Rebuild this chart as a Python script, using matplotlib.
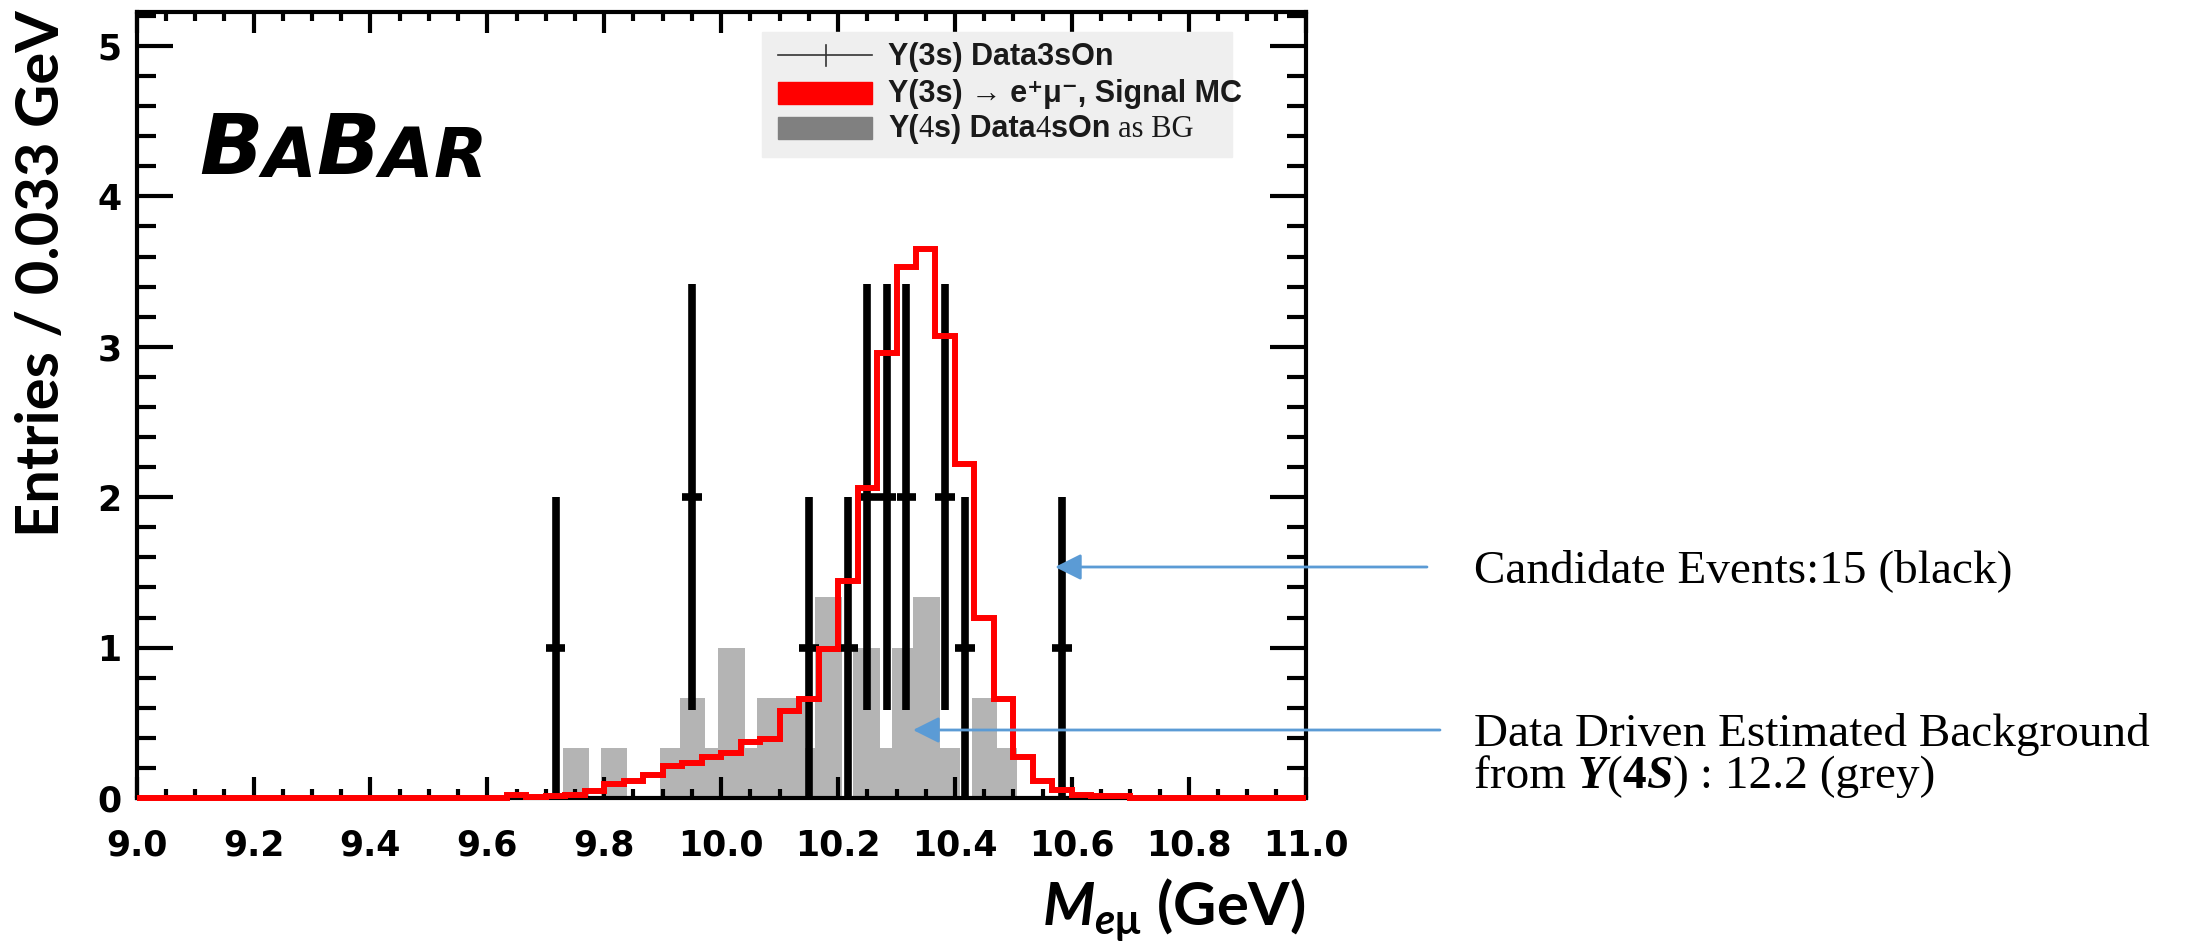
import numpy as np
import matplotlib
matplotlib.use('Agg')
import matplotlib.pyplot as plt
from matplotlib.patches import Rectangle, FancyArrowPatch
from matplotlib.lines import Line2D
from matplotlib.text import Annotation
from matplotlib.ticker import MultipleLocator, FormatStrFormatter

W, H = 2185, 947

### Signal MC (red), 60 bins of 0.033 GeV between 9 and 11 GeV
mc_edges = np.linspace(9.0, 11.0, 61)
mc_vals = [0, 0, 0, 0, 0, 0, 0, 0, 0, 0,
           0, 0, 0, 0, 0, 0, 0, 0, 0, 0.02,
           0.005, 0.01, 0.02, 0.045, 0.09, 0.115, 0.155, 0.215, 0.235, 0.275,
           0.30, 0.375, 0.39, 0.58, 0.655, 0.99, 1.44, 2.06, 2.96, 3.53,
           3.65, 3.07, 2.22, 1.20, 0.66, 0.27, 0.11, 0.05, 0.02, 0.01,
           0.01, 0, 0, 0, 0, 0, 0, 0, 0, 0]

bg_edges = [9.729, 9.774, 9.795, 9.839, 9.895, 9.929, 9.973, 9.995, 10.040,
            10.061, 10.144, 10.161, 10.206, 10.226, 10.272, 10.292, 10.329,
            10.375, 10.409, 10.429, 10.472, 10.506]
bg_vals = [1/3, 0, 1/3, 0, 1/3, 2/3, 1/3, 1, 1/3, 2/3, 1/3, 4/3, 0, 1, 1/3,
           1, 4/3, 1/3, 0, 2/3, 1/3]

### Y(3S) candidate events (black)
data_x = [9.717, 9.950, 10.150, 10.217, 10.250, 10.283, 10.317, 10.383,
          10.417, 10.583]
data_n = [1, 2, 1, 1, 2, 2, 2, 2, 1, 1]

xticks = [9.0, 9.2, 9.4, 9.6, 9.8, 10.0, 10.2, 10.4, 10.6, 10.8, 11.0]
yticks = [0, 1, 2, 3, 4, 5]


def px(x, y):
  return (x / W, 1 - y / H)


def chain(x, y, pieces, color='k'):
  ### place text pieces one after the other on a line
  s, kw = pieces[0]
  t = fig.text(*px(x, y), s, va='baseline', ha='left', color=color,
               zorder=3, **kw)
  for s, kw in pieces[1:]:
    t = fig.add_artist(Annotation(s, xy=(1, 0), xycoords=t, va='bottom',
                                  ha='left', color=color, zorder=3, **kw))
  return t


plt.rcParams['mathtext.fontset'] = 'custom'
plt.rcParams['mathtext.rm'] = 'Lato:bold'
plt.rcParams['mathtext.it'] = 'Lato:italic:bold'
plt.rcParams['mathtext.bf'] = 'Lato:bold'
plt.rcParams['mathtext.sf'] = 'Lato:bold'

fig = plt.figure(figsize=(W / 100, H / 100), dpi=100)
ax = fig.add_axes([136.6 / W, (H - 798) / H, (1305.7 - 136.6) / W,
                   (798 - 12) / H])

ax.stairs(bg_vals, bg_edges, fill=True, color='#b4b4b4', lw=0, zorder=1)
ax.errorbar(data_x, data_n, yerr=np.sqrt(data_n), xerr=1 / 60., fmt='none',
            ecolor='k', elinewidth=5.5, capsize=0, zorder=3)
ax.stairs(mc_vals, mc_edges, color='#ff0000', lw=4.3, zorder=4,
          clip_on=False)

ax.set_xlim(9.0, 11.0)
ax.set_ylim(0, 5.226)
ax.set_xticks(xticks)
ax.set_yticks(yticks)
ax.xaxis.set_minor_locator(MultipleLocator(0.05))
ax.yaxis.set_minor_locator(MultipleLocator(0.2))
ax.xaxis.set_major_formatter(FormatStrFormatter('%.1f'))
ax.tick_params(which='both', direction='in', top=True, right=True,
               width=3, color='k')
ax.tick_params(axis='x', which='major', length=15, pad=22)
ax.tick_params(axis='x', which='minor', length=6.5)
ax.tick_params(axis='y', which='major', length=26, pad=11)
ax.tick_params(axis='y', which='minor', length=14)
for lab in ax.get_xticklabels() + ax.get_yticklabels():
  lab.set_fontsize(25)
  lab.set_fontweight('bold')
  lab.set_family('DejaVu Sans')
for sp in ax.spines.values():
  sp.set_linewidth(3)

### axis titles
fig.text(*px(42, 274), 'Entries / 0.033 GeV', rotation=90, ha='center',
         va='center', fontsize=43, fontweight='bold', family='Lato')
fig.text(*px(1306, 926), r'$M_{e\mathsf{\mu}}$ (GeV)', ha='right',
         va='baseline', fontsize=43, fontweight='bold', family='Lato')

### BaBar logo
bb = {'family': 'DejaVu Sans', 'weight': 'bold', 'style': 'italic'}
chain(199, 174, [('B', dict(fontsize=60, **bb)), ('A', dict(fontsize=50, **bb)),
                 ('B', dict(fontsize=60, **bb)), ('A', dict(fontsize=50, **bb)),
                 ('R', dict(fontsize=50, **bb))])

### legend
fig.add_artist(Rectangle(px(762, 157), 470 / W, 125 / H, color='#efefef',
                         transform=fig.transFigure, zorder=1))
fig.add_artist(Line2D([778 / W, 872 / W], [1 - 55 / H, 1 - 55 / H],
                      color='#333333', lw=1.2, transform=fig.transFigure,
                      zorder=2))
fig.add_artist(Line2D([826 / W, 826 / W], [1 - 45 / H, 1 - 66 / H],
                      color='#333333', lw=1.2, transform=fig.transFigure,
                      zorder=2))
fig.add_artist(Rectangle(px(778, 104), 94 / W, 22 / H, color='#ff0000',
                         transform=fig.transFigure, zorder=2))
fig.add_artist(Rectangle(px(778, 139), 94 / W, 22 / H, color='#808080',
                         transform=fig.transFigure, zorder=2))
sans = {'family': ['Liberation Sans', 'DejaVu Sans'], 'weight': 'bold',
        'fontsize': 22}
serif = {'family': 'Liberation Serif', 'fontsize': 22}
chain(888, 65, [('Y(3s) Data3sOn', sans)], color='#1a1a1a')
chain(888, 102, [('Y(3s) \u2192 e\u207a\u03bc\u207b, Signal MC', sans)],
      color='#1a1a1a')
chain(888, 137, [('Y(', sans), ('4', serif), ('s) Data', sans), ('4', serif),
                 ('sOn ', sans), ('as BG', serif)], color='#1a1a1a')

### annotations on the right
blue = '#5b9bd5'
for (x0, x1, y) in [(1427, 1055, 567), (1440, 913, 730)]:
  fig.add_artist(FancyArrowPatch(px(x0, y), px(x1, y), transform=fig.transFigure,
                                 arrowstyle='-|>,head_length=0.8,head_width=0.4',
                                 mutation_scale=20, color=blue, lw=2,
                                 shrinkA=0, shrinkB=0))
ts = {'family': 'Liberation Serif', 'fontsize': 34}
tsbi = {'family': 'Liberation Serif', 'fontsize': 34, 'weight': 'bold',
        'style': 'italic'}
tsb = {'family': 'Liberation Serif', 'fontsize': 34, 'weight': 'bold'}
chain(1474, 582, [('Candidate Events:15 (black)', ts)])
chain(1474, 746, [('Data Driven Estimated Background', ts)])
chain(1474, 788, [('from ', ts), ('\u03a5', tsbi), ('(', ts), ('4', tsb),
                  ('S', tsbi), (')', ts), (' : 12.2 (grey)', ts)])

plt.savefig('out.png', dpi=100)
